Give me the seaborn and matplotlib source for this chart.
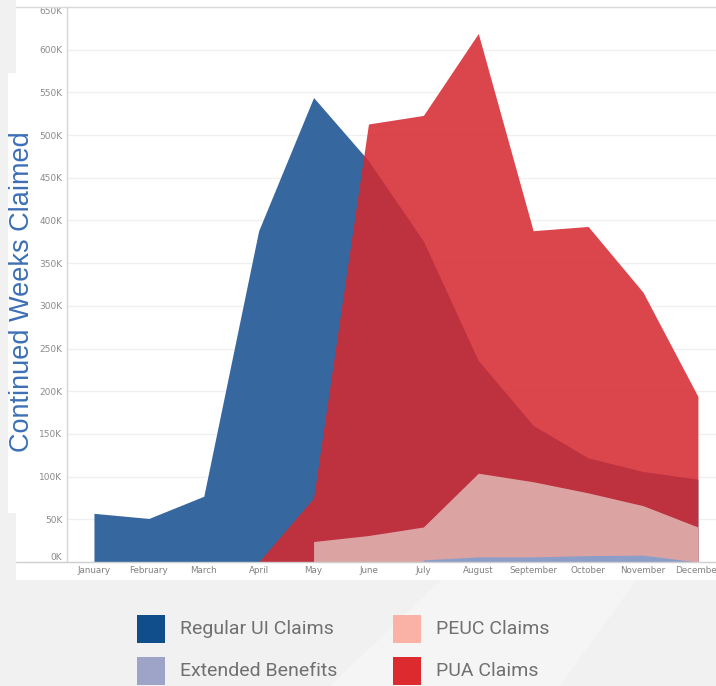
import numpy as np
import pandas as pd
import matplotlib.pyplot as plt
import seaborn as sns
from matplotlib.patches import Rectangle, Polygon
from matplotlib.lines import Line2D

nan = np.nan

months = ['January', 'February', 'March', 'April', 'May', 'June', 'July',
          'August', 'September', 'October', 'November', 'December']

# continued weeks claimed, thousands
regular_ui = [57, 51, 77, 388, 544, 470, 376, 236, 160, 122, 106, 97]
pua_claims = [nan, nan, nan, 0, 75, 513, 523, 619, 388, 393, 316, 194]
peuc_claims = [nan, nan, nan, nan, 24, 31, 41, 104, 94, 81, 66, 41]
extended_benefits = [nan, nan, nan, nan, nan, nan, 2.5, 6, 6, 7.5, 8, 0]

y_ticks = list(range(0, 651, 50))

legend_names = ['Regular UI Claims', 'Extended Benefits', 'PEUC Claims', 'PUA Claims']
legend_colors = ['#104e8b', '#9ea3c8', '#f9b2a5', '#dc2a2f']

df = pd.DataFrame({
    'month': months,
    'Regular UI Claims': regular_ui,
    'PUA Claims': pua_claims,
    'PEUC Claims': peuc_claims,
    'Extended Benefits': extended_benefits,
})
df['pos'] = np.arange(len(months))

sns.set_style("white")

W, H = 716, 686
fig = plt.figure(figsize=(W / 100, H / 100), dpi=100)
fig.patch.set_facecolor('#f1f1f1')


def fx(x):
    return x / W


def fy(y):
    return 1 - y / H


# faint lighter diagonal band in the background
fig.patches.append(Polygon([(fx(330), fy(686)), (fx(716), fy(318)), (fx(716), fy(470)),
                            (fx(560), fy(686))], closed=True, transform=fig.transFigure,
                           facecolor='#f5f5f5', edgecolor='none', zorder=0))
# white sheet and label box
fig.patches.append(Rectangle((fx(16), fy(580)), fx(716 - 16), (580) / H,
                             transform=fig.transFigure, facecolor='white',
                             edgecolor='none', zorder=0.5))
fig.patches.append(Rectangle((fx(8), fy(513)), fx(60), (513 - 73) / H,
                             transform=fig.transFigure, facecolor='white',
                             edgecolor='none', zorder=0.5))

left, top, bottom = 66.5, 7, 562
ax = fig.add_axes([fx(left), fy(bottom), 1 - fx(left), (bottom - top) / H])
ax.set_facecolor('white')
ax.set_zorder(1)

# areas overlap (not stacked)
ax.fill_between(df['pos'], 0, df['Regular UI Claims'], color='#36679e', lw=0, zorder=2)
ax.fill_between(df['pos'], 0, df['PUA Claims'], color='#d62830', alpha=0.86, lw=0, zorder=3)
ax.fill_between(df['pos'], 0, df['PEUC Claims'], color='#dca3a3', lw=0, zorder=4)
ax.fill_between(df['pos'], 0, df['Extended Benefits'], color='#8c9ec8', lw=0, zorder=5)

ax.set_xlim(-0.5, (W - 94) / 54.9)
ax.set_ylim(0, 650)
ax.set_yticks(y_ticks)
ax.set_yticklabels([f'{v}K' for v in y_ticks], fontsize=6.5, color='#8a8a8a',
                   family='DejaVu Sans')
lbls = ax.get_yticklabels()
lbls[0].set_va('bottom')
lbls[-1].set_va('top')
ax.set_xticks(df['pos'])
ax.set_xticklabels(months, fontsize=6.3, color='#808080', family='DejaVu Sans')
ax.set_xticks(np.arange(0.5, 11.5, 1), minor=True)
ax.tick_params(axis='x', which='major', length=0, pad=3)
ax.tick_params(axis='x', which='minor', length=13, color='#e6e6e6', width=0.8)
ax.tick_params(axis='y', length=0, pad=3)

ax.grid(axis='y', color='#f0f0f0', lw=1)
ax.grid(axis='x', visible=False)
ax.set_axisbelow(True)
for s in ['top', 'right', 'bottom']:
    ax.spines[s].set_visible(False)
ax.spines['left'].set_color('#d6d6d6')
ax.spines['left'].set_linewidth(1)
ax.set_xlabel('')
ax.set_ylabel('')

# axis lines running across the sheet
fig.lines.append(Line2D([fx(16), 1], [fy(562), fy(562)], transform=fig.transFigure,
                        color='#cfcfcf', lw=1, zorder=3))
fig.lines.append(Line2D([fx(16), 1], [fy(7), fy(7)], transform=fig.transFigure,
                        color='#d9d9d9', lw=1, zorder=3))

fig.text(fx(22), fy(292), 'Continued Weeks Claimed', rotation=90, ha='center',
         va='center', fontsize=19.5, color='#3d6fb6', family='Liberation Sans')

# legend
sw = 28
entries = [(137, 615), (137, 657), (393, 615), (393, 657)]
for (x0, y0), name, col in zip(entries, legend_names, legend_colors):
    fig.patches.append(Rectangle((fx(x0), fy(y0 + sw)), fx(sw), sw / H,
                                 transform=fig.transFigure, facecolor=col,
                                 edgecolor='none', zorder=2))
    fig.text(fx(x0 + 43), fy(y0 + sw / 2), name, ha='left', va='center',
             fontsize=14, color='#707070', family='Roboto')

plt.savefig('out.png', dpi=100, facecolor=fig.get_facecolor())
